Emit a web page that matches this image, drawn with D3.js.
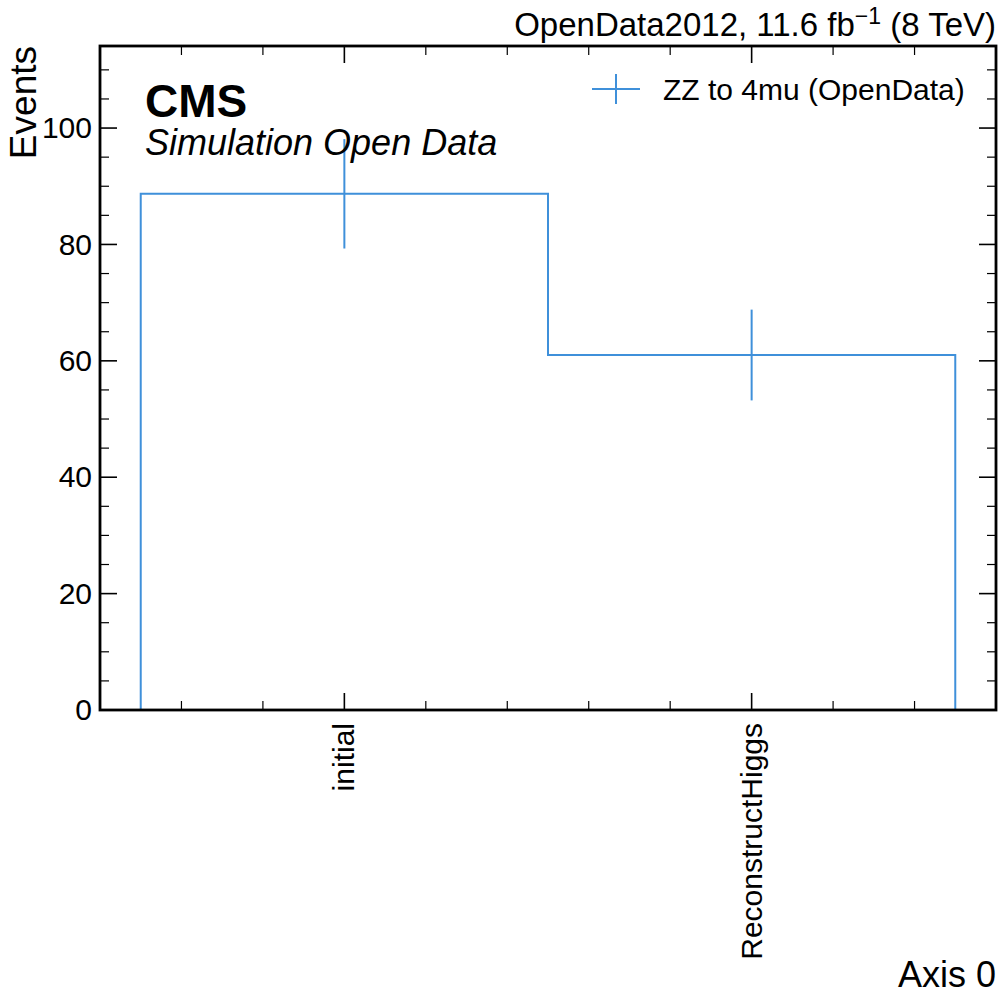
<!DOCTYPE html>
<html>
<head>
<meta charset="utf-8">
<script src="https://cdn.jsdelivr.net/npm/d3@7"></script>
<style>
  html, body { margin: 0; padding: 0; background: #fff; }
  svg { display: block; font-family: "Liberation Sans", Arial, Helvetica, sans-serif; }
</style>
</head>
<body>
<svg id="chart" width="1000" height="1000"></svg>
<script>
// ---- data ----
const categories = ["initial", "ReconstructHiggs"];
const counts = [88.7, 61.0];
const errors = [9.4, 7.8];
const yTicks = [0, 20, 40, 60, 80, 100];
const seriesName = "ZZ to 4mu (OpenData)";
const xLabel = "Axis 0";
const yLabel = "Events";

// ---- layout ----
const L = 100, R = 996, T = 46, B = 710;
const color = "#3f90da";

const svg = d3.select("#chart");

const x = d3.scaleLinear().domain([-0.6, 1.6]).range([L, R]);
const y = d3.scaleLinear().domain([0, 114.1]).range([B, T]);

const cx = categories.map((c, i) => i);
const edges = d3.range(categories.length + 1).map(i => i - 0.5);

// histogram step
const pts = [];
pts.push([edges[0], 0]);
counts.forEach((v, i) => {
  pts.push([edges[i], v]);
  pts.push([edges[i + 1], v]);
});
pts.push([edges[edges.length - 1], 0]);
svg.append("path")
  .attr("d", d3.line().x(d => x(d[0])).y(d => y(d[1]))(pts))
  .attr("fill", "none")
  .attr("stroke", color)
  .attr("stroke-width", 2);

// error bars
svg.append("g").selectAll("line").data(counts).join("line")
  .attr("x1", (d, i) => x(cx[i])).attr("x2", (d, i) => x(cx[i]))
  .attr("y1", (d, i) => y(d - errors[i])).attr("y2", (d, i) => y(d + errors[i]))
  .attr("stroke", color).attr("stroke-width", 2);

// ---- axes ----
const minorX = d3.range(-0.4, 1.6001, 0.2).map(v => Math.round(v * 10) / 10).filter(v => Math.abs(v) > 1e-9 && Math.abs(v - 1) > 1e-9);
const minorY = d3.range(0, 114, 5).filter(v => v % 20 !== 0);

function tickLines(g, vals, orient, len, sw) {
  vals.forEach(v => {
    let x1, x2, y1, y2;
    if (orient === "bottom") { x1 = x2 = x(v); y1 = B; y2 = B - len; }
    if (orient === "top") { x1 = x2 = x(v); y1 = T; y2 = T + len; }
    if (orient === "left") { y1 = y2 = y(v); x1 = L; x2 = L + len; }
    if (orient === "right") { y1 = y2 = y(v); x1 = R; x2 = R - len; }
    g.append("line").attr("x1", x1).attr("x2", x2).attr("y1", y1).attr("y2", y2)
      .attr("stroke", "#000").attr("stroke-width", sw);
  });
}
const tg = svg.append("g");
["bottom", "top"].forEach(o => {
  tickLines(tg, cx, o, 17, 1.6);
  tickLines(tg, minorX, o, 9, 1.2);
});
["left", "right"].forEach(o => {
  tickLines(tg, yTicks, o, 17, 1.6);
  tickLines(tg, minorY, o, 9, 1.2);
});

// y tick labels via d3 axis (labels only)
const yAxis = svg.append("g").attr("transform", `translate(${L},0)`)
  .call(d3.axisLeft(y).tickValues(yTicks).tickSize(0).tickPadding(8));
yAxis.select(".domain").remove();
yAxis.selectAll("text").attr("font-size", 30).attr("fill", "#000")
  .attr("font-family", "'Liberation Sans', Arial, sans-serif");

// x tick labels rotated
svg.append("g").selectAll("text").data(categories).join("text")
  .attr("transform", (d, i) => `translate(${x(cx[i]) + 10},${B + 13}) rotate(-90)`)
  .attr("text-anchor", "end")
  .attr("font-size", 30)
  .attr("fill", "#000")
  .text(d => d);

// frame
svg.append("rect").attr("x", L).attr("y", T).attr("width", R - L).attr("height", B - T)
  .attr("fill", "none").attr("stroke", "#000").attr("stroke-width", 2.8);

// axis labels
svg.append("text").attr("x", R).attr("y", 987).attr("text-anchor", "end")
  .attr("font-size", 36).text(xLabel);
svg.append("text").attr("transform", `translate(36,${T}) rotate(-90)`)
  .attr("text-anchor", "end").attr("font-size", 37).text(yLabel);

// CMS label
svg.append("text").attr("x", 145).attr("y", 117).attr("font-size", 46)
  .attr("font-weight", "bold").text("CMS");
svg.append("text").attr("x", 145).attr("y", 155).attr("font-size", 36)
  .attr("font-style", "italic").text("Simulation Open Data");

// lumi text
const lumi = svg.append("text").attr("x", R).attr("y", 36).attr("text-anchor", "end")
  .attr("font-size", 33);
lumi.append("tspan").text("OpenData2012, 11.6 fb");
lumi.append("tspan").attr("dy", -12).attr("font-size", 23).text("\u22121");
lumi.append("tspan").attr("dy", 12).text(" (8 TeV)");

// legend
const lg = svg.append("g");
lg.append("line").attr("x1", 592).attr("x2", 640).attr("y1", 89).attr("y2", 89)
  .attr("stroke", color).attr("stroke-width", 2);
lg.append("line").attr("x1", 616).attr("x2", 616).attr("y1", 74).attr("y2", 104)
  .attr("stroke", color).attr("stroke-width", 2);
lg.append("text").attr("x", 663).attr("y", 100).attr("font-size", 30).text(seriesName);
</script>
</body>
</html>
